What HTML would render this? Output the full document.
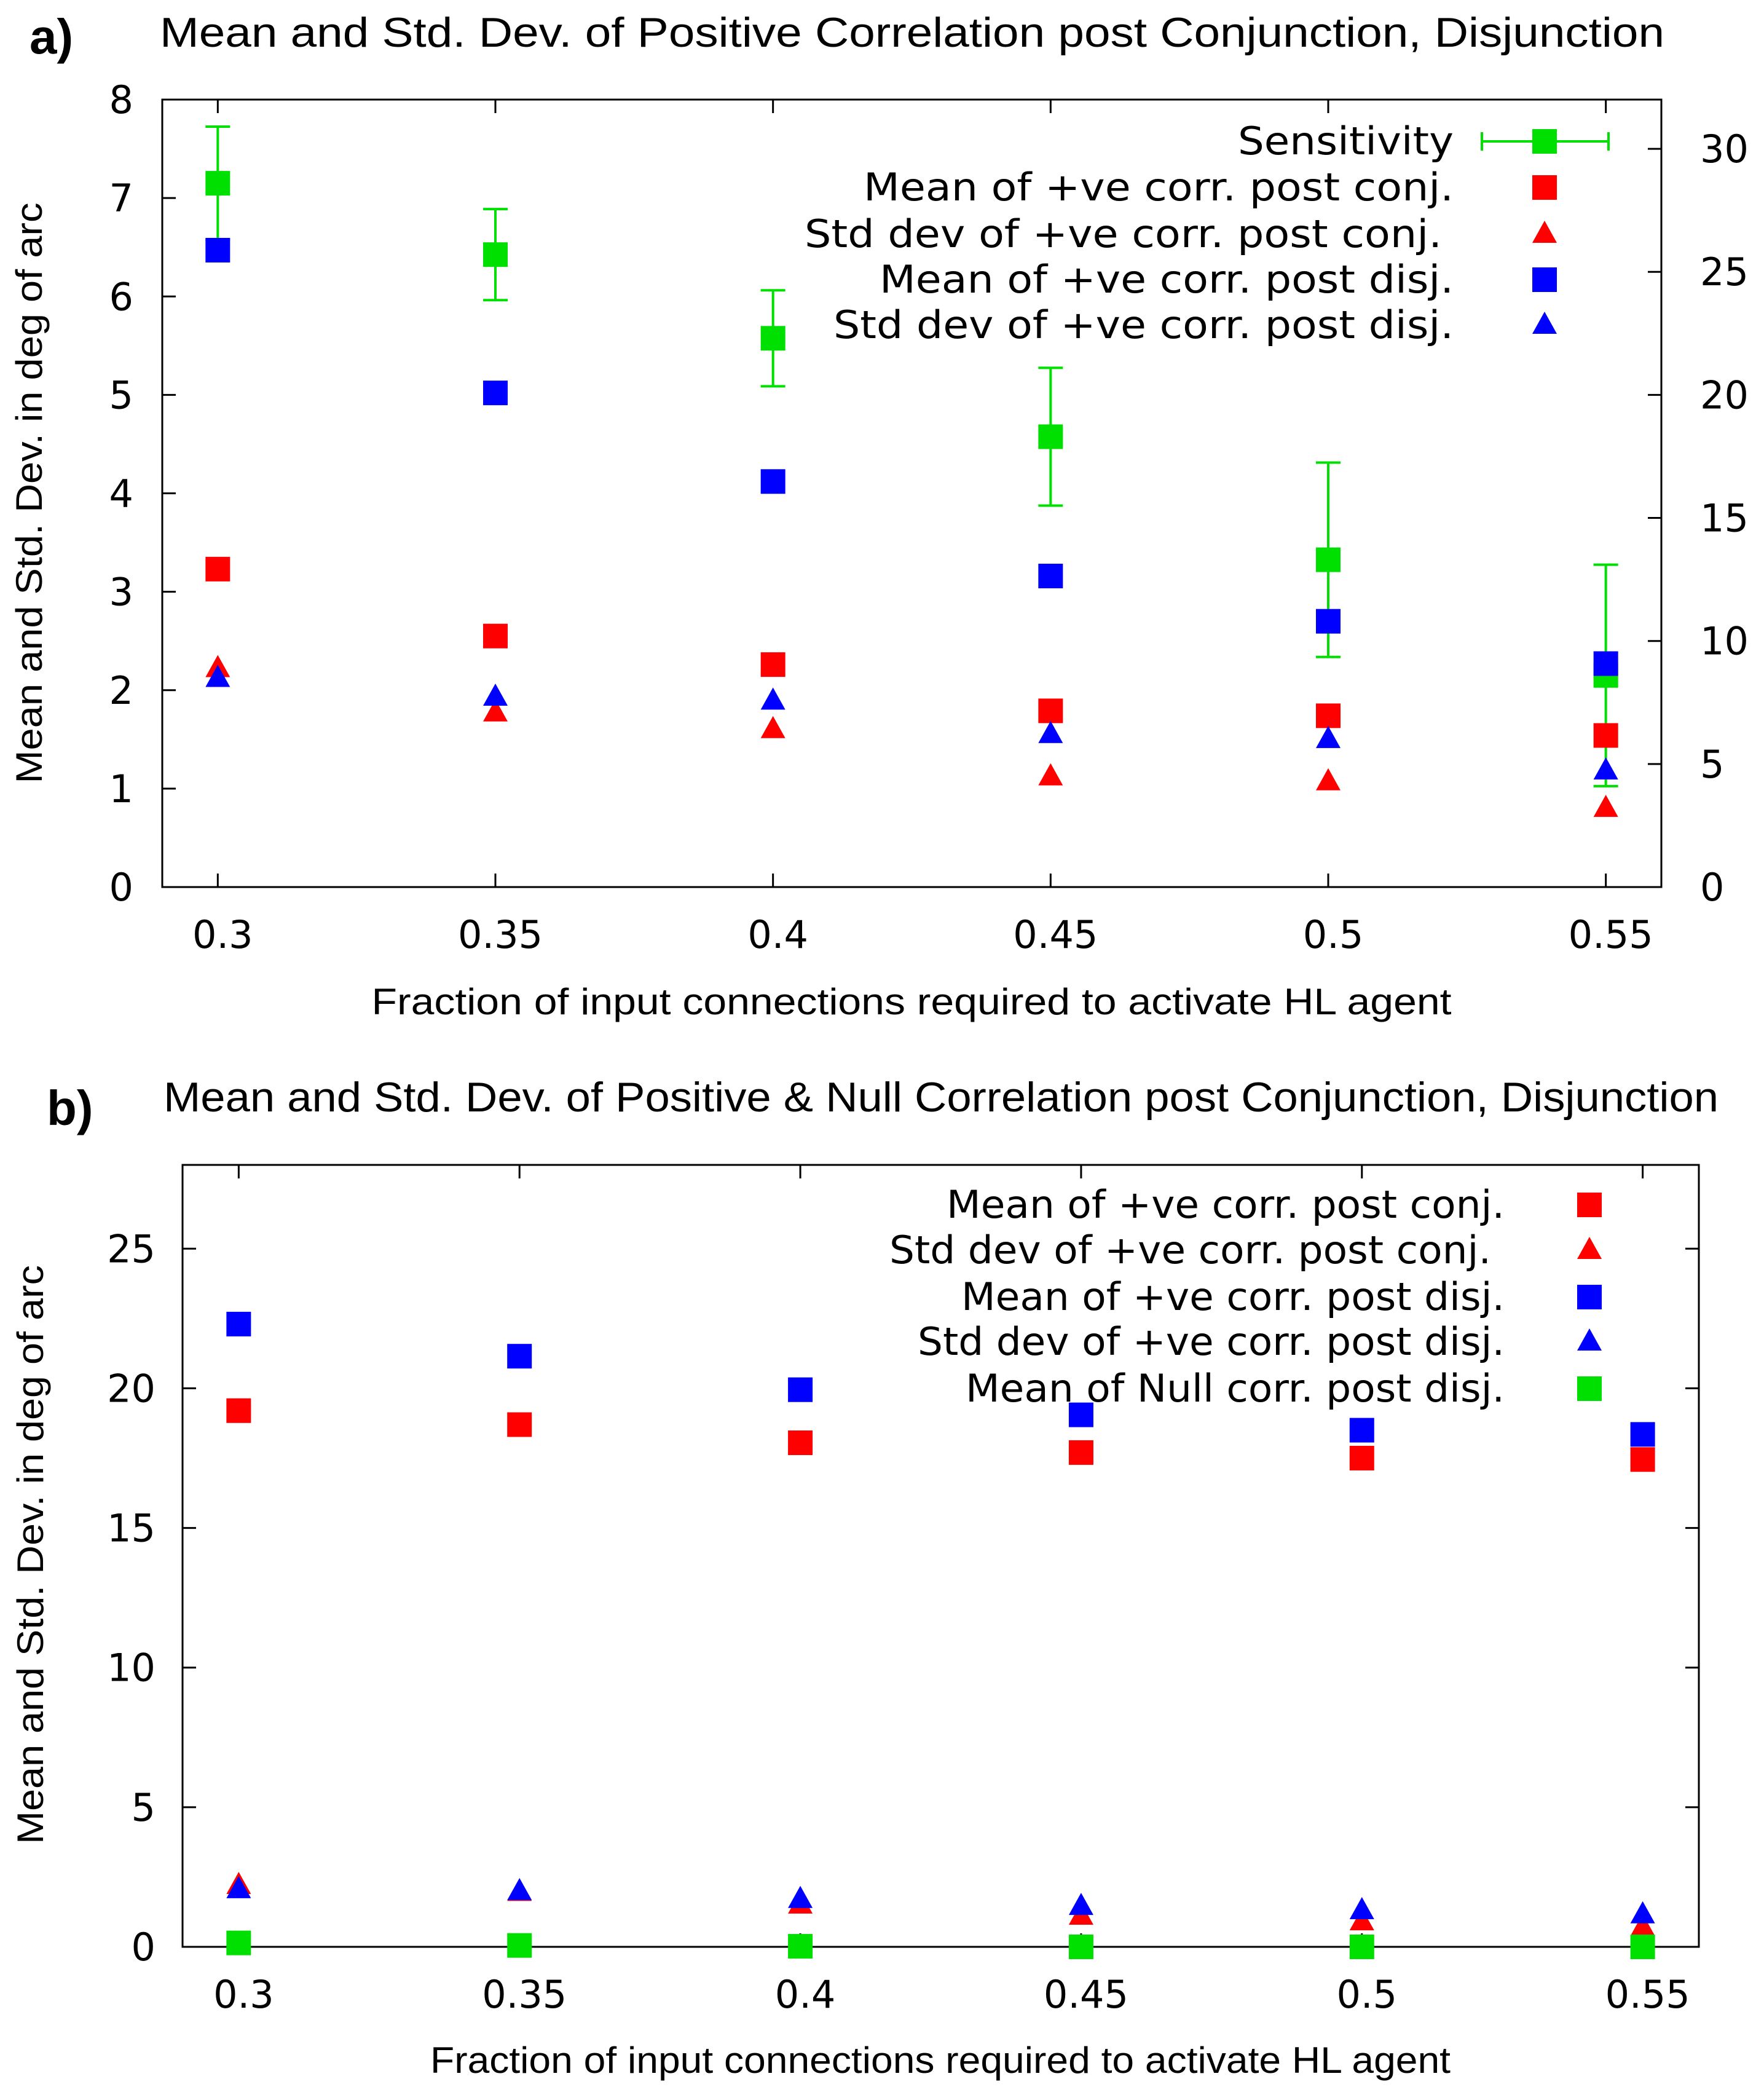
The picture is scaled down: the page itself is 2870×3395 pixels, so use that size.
<!DOCTYPE html>
<html><head><meta charset="utf-8"><style>html,body{margin:0;padding:0;background:#fff}svg{display:block}</style></head>
<body>
<svg id="chart" xmlns="http://www.w3.org/2000/svg" width="2870" height="3395" viewBox="0 0 2870 3395">
<rect width="2870" height="3395" fill="#fff"/>
<text x="48" y="87" font-family="Liberation Sans, sans-serif" font-weight="bold" font-size="80">a)</text>
<text x="260" y="76" font-family="Liberation Sans, sans-serif" font-size="68" textLength="2448" lengthAdjust="spacingAndGlyphs">Mean and Std. Dev. of Positive Correlation post Conjunction, Disjunction</text>
<text x="76" y="1830" font-family="Liberation Sans, sans-serif" font-weight="bold" font-size="80">b)</text>
<text x="266" y="1808" font-family="Liberation Sans, sans-serif" font-size="68" textLength="2530" lengthAdjust="spacingAndGlyphs">Mean and Std. Dev. of Positive &amp; Null Correlation post Conjunction, Disjunction</text>
<g id="pa"></g>
<g id="pb"></g>
</svg>
<script>
// ---- data ----
const xCats = [0.3, 0.35, 0.4, 0.45, 0.5, 0.55];
const xTickLabels = ["0.3", "0.35", "0.4", "0.45", "0.5", "0.55"];
// Panel a
const aSensMean = [28.6, 25.7, 22.3, 18.3, 13.3, 8.6];
const aSensErr = [2.3, 1.85, 1.95, 2.8, 3.95, 4.5];
const aMeanConj = [3.23, 2.55, 2.26, 1.79, 1.74, 1.54];
const aStdConj = [2.22, 1.77, 1.6, 1.12, 1.07, 0.8];
const aMeanDisj = [6.47, 5.02, 4.12, 3.16, 2.70, 2.27];
const aStdDisj = [2.12, 1.93, 1.89, 1.55, 1.5, 1.18];
const aYTicks = ["0","1","2","3","4","5","6","7","8"];
const aY2Ticks = ["0","5","10","15","20","25","30"];
// Panel b
const bMeanConj = [19.2, 18.7, 18.05, 17.7, 17.5, 17.45];
const bStdConj = [2.2, 1.95, 1.5, 1.1, 0.9, 0.7];
const bMeanDisj = [22.3, 21.15, 19.95, 19.05, 18.5, 18.35];
const bStdDisj = [2.05, 1.98, 1.7, 1.45, 1.3, 1.15];
const bMeanNull = [0.14, 0.05, 0.02, 0.0, 0.0, 0.0];
const bYTicks = ["0","5","10","15","20","25"];

const NS = "http://www.w3.org/2000/svg";
const GREEN = "#00e000", RED = "#ff0000", BLUE = "#0000ff";
const TF = "DejaVu Sans, sans-serif";
function mk(parent, tag, attrs, text) {
  const e = document.createElementNS(NS, tag);
  for (const k in attrs) e.setAttribute(k, attrs[k]);
  if (text !== undefined) e.textContent = text;
  parent.appendChild(e); return e;
}
function square(g, cx, cy, color, name) {
  const e = mk(g, "rect", {x: cx - 20, y: cy - 20, width: 40, height: 40, fill: color});
  
  
}
function tri(g, cx, cy, color, name) {
  const e = mk(g, "polygon", {points: `${cx},${cy - 22} ${cx + 20},${cy + 14} ${cx - 20},${cy + 14}`, fill: color});
  
  
}
function frame(g, L, R, T, B, xs, name) {
  const f = mk(g, "rect", {x: L, y: T, width: R - L, height: B - T, fill: "none", stroke: "#000", "stroke-width": 3});
  
  
  xCats.forEach((v, i) => {
    const x = xs(v);
    mk(g, "line", {x1: x, y1: B, x2: x, y2: B - 22, stroke: "#000", "stroke-width": 3});
    mk(g, "line", {x1: x, y1: T, x2: x, y2: T + 22, stroke: "#000", "stroke-width": 3});
    const t = mk(g, "text", {x: x + 8, y: B + 99, "text-anchor": "middle", "font-family": TF, "font-size": 62}, xTickLabels[i]);
    
    
  });
}
function legendRow(g, y, textRight, label, width, name) {
  const t = mk(g, "text", {x: textRight - width, y: y + 21, "font-family": TF, "font-size": 62, textLength: width, lengthAdjust: "spacingAndGlyphs"}, label);
  
  
}

// ---- Panel a ----
(function () {
  const g = document.getElementById("pa");
  const L = 264, R = 2703, T = 162, B = 1443;
  const xs = v => L + (v - 0.29) / 0.27 * (R - L);
  const ys = v => B - v / 8 * (B - T);
  const y2s = v => B - v / 32 * (B - T);
  frame(g, L, R, T, B, xs, "a");
  aYTicks.forEach(s => {
    const y = ys(+s);
    mk(g, "line", {x1: L, y1: y, x2: L + 22, y2: y, stroke: "#000", "stroke-width": 3});
    const t = mk(g, "text", {x: 217, y: y + 22, "text-anchor": "end", "font-family": TF, "font-size": 62}, s);
    
    
  });
  aY2Ticks.forEach(s => {
    const y = y2s(+s);
    mk(g, "line", {x1: R, y1: y, x2: R - 22, y2: y, stroke: "#000", "stroke-width": 3});
    const t = mk(g, "text", {x: 2766, y: y + 22, "font-family": TF, "font-size": 62}, s);
    
    
  });
  const yl = mk(g, "text", {transform: "translate(68,802) rotate(-90)", "text-anchor": "middle", "font-family": "Liberation Sans, sans-serif", "font-size": 60, textLength: 945, lengthAdjust: "spacingAndGlyphs"}, "Mean and Std. Dev. in deg of arc");
  
  
  const xl = mk(g, "text", {x: 1483, y: 1650, "text-anchor": "middle", "font-family": "Liberation Sans, sans-serif", "font-size": 60, textLength: 1757, lengthAdjust: "spacingAndGlyphs"}, "Fraction of input connections required to activate HL agent");
  
  

  xCats.forEach((v, i) => {
    const x = xs(v);
    const top = y2s(aSensMean[i] + aSensErr[i]), bot = y2s(aSensMean[i] - aSensErr[i]);
    const eb = mk(g, "path", {d: `M${x},${top}V${bot}M${x - 20},${top}H${x + 20}M${x - 20},${bot}H${x + 20}`, stroke: GREEN, "stroke-width": 4, fill: "none"});
    
    
    square(g, x, y2s(aSensMean[i]), GREEN, 'sensitivity-point');
    square(g, x, ys(aMeanConj[i]), RED, 'mean-conj-point');
    tri(g, x, ys(aStdConj[i]), RED, 'std-conj-point');
    square(g, x, ys(aMeanDisj[i]), BLUE, 'mean-disj-point');
    tri(g, x, ys(aStdDisj[i]), BLUE, 'std-disj-point');
  });
  const ly = [230, 305, 381, 455, 529];
  legendRow(g, ly[0], 2365, "Sensitivity", 351, "legend-sensitivity");
  const le = mk(g, "path", {d: `M2411,230H2617M2411,215V245M2617,215V245`, stroke: GREEN, "stroke-width": 4, fill: "none"});
  
  
  square(g, 2513, 230, GREEN, 'legend-sensitivity-marker');
  legendRow(g, ly[1], 2365, "Mean of +ve corr. post conj.", 960, "legend-mean-conj");
  square(g, 2513, ly[1], RED, 'legend-mean-conj-marker');
  legendRow(g, ly[2], 2346, "Std dev of +ve corr. post conj.", 1037, "legend-std-conj");
  tri(g, 2513, ly[2], RED, 'legend-std-conj-marker');
  legendRow(g, ly[3], 2365, "Mean of +ve corr. post disj.", 934, "legend-mean-disj");
  square(g, 2513, ly[3], BLUE, 'legend-mean-disj-marker');
  legendRow(g, ly[4], 2365, "Std dev of +ve corr. post disj.", 1009, "legend-std-disj");
  tri(g, 2513, ly[4], BLUE, 'legend-std-disj-marker');
})();

// ---- Panel b ----
(function () {
  const g = document.getElementById("pb");
  const L = 297, R = 2764, T = 1895, B = 3167;
  const xs = v => L + (v - 0.29) / 0.27 * (R - L);
  const ys = v => B - v / 28 * (B - T);
  frame(g, L, R, T, B, xs, "b");
  bYTicks.forEach(s => {
    const y = ys(+s);
    mk(g, "line", {x1: L, y1: y, x2: L + 22, y2: y, stroke: "#000", "stroke-width": 3});
    mk(g, "line", {x1: R, y1: y, x2: R - 22, y2: y, stroke: "#000", "stroke-width": 3});
    const t = mk(g, "text", {x: 253, y: y + 22, "text-anchor": "end", "font-family": TF, "font-size": 62}, s);
    
    
  });
  const yl = mk(g, "text", {transform: "translate(70,2529) rotate(-90)", "text-anchor": "middle", "font-family": "Liberation Sans, sans-serif", "font-size": 60, textLength: 942, lengthAdjust: "spacingAndGlyphs"}, "Mean and Std. Dev. in deg of arc");
  
  
  const xl = mk(g, "text", {x: 1530, y: 3372, "text-anchor": "middle", "font-family": "Liberation Sans, sans-serif", "font-size": 60, textLength: 1660, lengthAdjust: "spacingAndGlyphs"}, "Fraction of input connections required to activate HL agent");
  
  

  xCats.forEach((v, i) => {
    const x = xs(v);
    square(g, x, ys(bMeanConj[i]), RED, 'mean-conj-point');
    tri(g, x, ys(bStdConj[i]), RED, 'std-conj-point');
    square(g, x, ys(bMeanDisj[i]), BLUE, 'mean-disj-point');
    tri(g, x, ys(bStdDisj[i]), BLUE, 'std-disj-point');
    square(g, x, ys(bMeanNull[i]), GREEN, 'mean-null-point');
  });
  const ly = [1960, 2034, 2110, 2183, 2259];
  legendRow(g, ly[0], 2448, "Mean of +ve corr. post conj.", 908, "legend-mean-conj");
  square(g, 2586, ly[0], RED, 'legend-mean-conj-marker');
  legendRow(g, ly[1], 2426, "Std dev of +ve corr. post conj.", 979, "legend-std-conj");
  tri(g, 2586, ly[1], RED, 'legend-std-conj-marker');
  legendRow(g, ly[2], 2448, "Mean of +ve corr. post disj.", 884, "legend-mean-disj");
  square(g, 2586, ly[2], BLUE, 'legend-mean-disj-marker');
  legendRow(g, ly[3], 2448, "Std dev of +ve corr. post disj.", 955, "legend-std-disj");
  tri(g, 2586, ly[3], BLUE, 'legend-std-disj-marker');
  legendRow(g, ly[4], 2448, "Mean of Null corr. post disj.", 877, "legend-mean-null");
  square(g, 2586, ly[4], GREEN, 'legend-mean-null-marker');
})();
</script>
</body></html>
